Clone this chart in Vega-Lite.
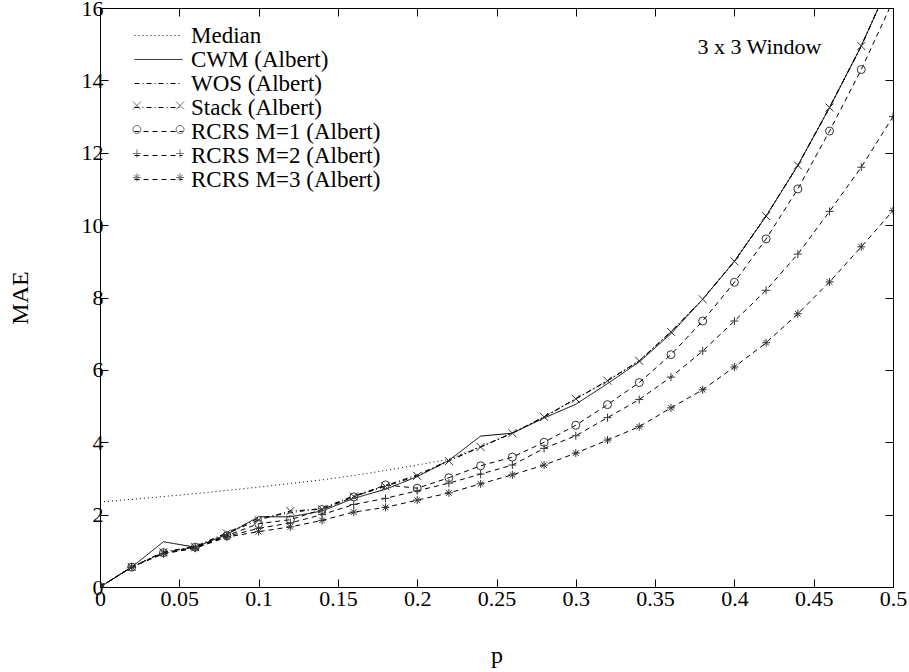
{
  "$schema": "https://vega.github.io/schema/vega-lite/v6.json",
  "width": 793,
  "height": 579,
  "autosize": "none",
  "padding": {"left": 100, "top": 8, "right": 16, "bottom": 85},
  "background": "white",
  "config": {
    "font": "Liberation Serif",
    "view": {"stroke": "black", "strokeWidth": 1},
    "axis": {
      "domainColor": "black", "tickColor": "black", "labelColor": "black", "titleColor": "black",
      "labelFont": "Liberation Serif", "titleFont": "Liberation Serif",
      "labelFontSize": 22, "titleFontSize": 24, "titleFontWeight": "normal",
      "grid": false, "tickSize": -8, "domain": true
    },
    "legend": {"labelFont": "Liberation Serif", "labelFontSize": 23, "labelColor": "black", "labelLimit": 500}
  },
  "data": {"values": [
    {"s":"Median","p":0,"v":2.35},{"s":"Median","p":0.02,"v":2.42},{"s":"Median","p":0.04,"v":2.5},{"s":"Median","p":0.06,"v":2.58},{"s":"Median","p":0.08,"v":2.67},{"s":"Median","p":0.1,"v":2.76},{"s":"Median","p":0.12,"v":2.86},{"s":"Median","p":0.14,"v":2.96},{"s":"Median","p":0.16,"v":3.08},{"s":"Median","p":0.18,"v":3.22},{"s":"Median","p":0.2,"v":3.37},{"s":"Median","p":0.22,"v":3.53},{"s":"Median","p":0.24,"v":3.88},{"s":"Median","p":0.26,"v":4.26},{"s":"Median","p":0.28,"v":4.7},{"s":"Median","p":0.3,"v":5.2},{"s":"Median","p":0.32,"v":5.7},{"s":"Median","p":0.34,"v":6.25},{"s":"Median","p":0.36,"v":7.05},{"s":"Median","p":0.38,"v":7.95},{"s":"Median","p":0.4,"v":9.0},{"s":"Median","p":0.42,"v":10.25},{"s":"Median","p":0.44,"v":11.65},{"s":"Median","p":0.46,"v":13.25},{"s":"Median","p":0.48,"v":14.95},{"s":"Median","p":0.5,"v":16.9},

    {"s":"CWM (Albert)","p":0,"v":0},{"s":"CWM (Albert)","p":0.02,"v":0.55},{"s":"CWM (Albert)","p":0.04,"v":1.25},{"s":"CWM (Albert)","p":0.06,"v":1.1},{"s":"CWM (Albert)","p":0.08,"v":1.45},{"s":"CWM (Albert)","p":0.1,"v":1.94},{"s":"CWM (Albert)","p":0.12,"v":1.94},{"s":"CWM (Albert)","p":0.14,"v":2.1},{"s":"CWM (Albert)","p":0.16,"v":2.45},{"s":"CWM (Albert)","p":0.18,"v":2.7},{"s":"CWM (Albert)","p":0.2,"v":3.05},{"s":"CWM (Albert)","p":0.22,"v":3.5},{"s":"CWM (Albert)","p":0.24,"v":4.17},{"s":"CWM (Albert)","p":0.26,"v":4.25},{"s":"CWM (Albert)","p":0.28,"v":4.67},{"s":"CWM (Albert)","p":0.3,"v":5.05},{"s":"CWM (Albert)","p":0.32,"v":5.62},{"s":"CWM (Albert)","p":0.34,"v":6.22},{"s":"CWM (Albert)","p":0.36,"v":7.0},{"s":"CWM (Albert)","p":0.38,"v":7.95},{"s":"CWM (Albert)","p":0.4,"v":9.0},{"s":"CWM (Albert)","p":0.42,"v":10.25},{"s":"CWM (Albert)","p":0.44,"v":11.65},{"s":"CWM (Albert)","p":0.46,"v":13.25},{"s":"CWM (Albert)","p":0.48,"v":14.95},{"s":"CWM (Albert)","p":0.5,"v":16.9},

    {"s":"WOS (Albert)","p":0,"v":0},{"s":"WOS (Albert)","p":0.02,"v":0.55},{"s":"WOS (Albert)","p":0.04,"v":0.97},{"s":"WOS (Albert)","p":0.06,"v":1.12},{"s":"WOS (Albert)","p":0.08,"v":1.5},{"s":"WOS (Albert)","p":0.1,"v":1.9},{"s":"WOS (Albert)","p":0.12,"v":2.05},{"s":"WOS (Albert)","p":0.14,"v":2.18},{"s":"WOS (Albert)","p":0.16,"v":2.52},{"s":"WOS (Albert)","p":0.18,"v":2.8},{"s":"WOS (Albert)","p":0.2,"v":3.1},{"s":"WOS (Albert)","p":0.22,"v":3.5},{"s":"WOS (Albert)","p":0.24,"v":3.87},{"s":"WOS (Albert)","p":0.26,"v":4.25},{"s":"WOS (Albert)","p":0.28,"v":4.7},{"s":"WOS (Albert)","p":0.3,"v":5.2},{"s":"WOS (Albert)","p":0.32,"v":5.7},{"s":"WOS (Albert)","p":0.34,"v":6.25},{"s":"WOS (Albert)","p":0.36,"v":7.05},{"s":"WOS (Albert)","p":0.38,"v":7.95},{"s":"WOS (Albert)","p":0.4,"v":9.0},{"s":"WOS (Albert)","p":0.42,"v":10.25},{"s":"WOS (Albert)","p":0.44,"v":11.65},{"s":"WOS (Albert)","p":0.46,"v":13.25},{"s":"WOS (Albert)","p":0.48,"v":14.95},{"s":"WOS (Albert)","p":0.5,"v":16.9},

    {"s":"Stack (Albert)","p":0,"v":0},{"s":"Stack (Albert)","p":0.02,"v":0.55},{"s":"Stack (Albert)","p":0.04,"v":0.96},{"s":"Stack (Albert)","p":0.06,"v":1.1},{"s":"Stack (Albert)","p":0.08,"v":1.48},{"s":"Stack (Albert)","p":0.1,"v":1.85},{"s":"Stack (Albert)","p":0.12,"v":2.1},{"s":"Stack (Albert)","p":0.14,"v":2.15},{"s":"Stack (Albert)","p":0.16,"v":2.5},{"s":"Stack (Albert)","p":0.18,"v":2.78},{"s":"Stack (Albert)","p":0.2,"v":3.07},{"s":"Stack (Albert)","p":0.22,"v":3.48},{"s":"Stack (Albert)","p":0.24,"v":3.87},{"s":"Stack (Albert)","p":0.26,"v":4.25},{"s":"Stack (Albert)","p":0.28,"v":4.7},{"s":"Stack (Albert)","p":0.3,"v":5.2},{"s":"Stack (Albert)","p":0.32,"v":5.7},{"s":"Stack (Albert)","p":0.34,"v":6.25},{"s":"Stack (Albert)","p":0.36,"v":7.05},{"s":"Stack (Albert)","p":0.38,"v":7.95},{"s":"Stack (Albert)","p":0.4,"v":9.0},{"s":"Stack (Albert)","p":0.42,"v":10.25},{"s":"Stack (Albert)","p":0.44,"v":11.65},{"s":"Stack (Albert)","p":0.46,"v":13.25},{"s":"Stack (Albert)","p":0.48,"v":14.95},{"s":"Stack (Albert)","p":0.5,"v":16.9},

    {"s":"RCRS M=1 (Albert)","p":0,"v":0},{"s":"RCRS M=1 (Albert)","p":0.02,"v":0.55},{"s":"RCRS M=1 (Albert)","p":0.04,"v":0.95},{"s":"RCRS M=1 (Albert)","p":0.06,"v":1.1},{"s":"RCRS M=1 (Albert)","p":0.08,"v":1.42},{"s":"RCRS M=1 (Albert)","p":0.1,"v":1.75},{"s":"RCRS M=1 (Albert)","p":0.12,"v":1.86},{"s":"RCRS M=1 (Albert)","p":0.14,"v":2.14},{"s":"RCRS M=1 (Albert)","p":0.16,"v":2.49},{"s":"RCRS M=1 (Albert)","p":0.18,"v":2.82},{"s":"RCRS M=1 (Albert)","p":0.2,"v":2.73},{"s":"RCRS M=1 (Albert)","p":0.22,"v":3.02},{"s":"RCRS M=1 (Albert)","p":0.24,"v":3.35},{"s":"RCRS M=1 (Albert)","p":0.26,"v":3.59},{"s":"RCRS M=1 (Albert)","p":0.28,"v":4.0},{"s":"RCRS M=1 (Albert)","p":0.3,"v":4.47},{"s":"RCRS M=1 (Albert)","p":0.32,"v":5.04},{"s":"RCRS M=1 (Albert)","p":0.34,"v":5.65},{"s":"RCRS M=1 (Albert)","p":0.36,"v":6.42},{"s":"RCRS M=1 (Albert)","p":0.38,"v":7.35},{"s":"RCRS M=1 (Albert)","p":0.4,"v":8.42},{"s":"RCRS M=1 (Albert)","p":0.42,"v":9.62},{"s":"RCRS M=1 (Albert)","p":0.44,"v":11.0},{"s":"RCRS M=1 (Albert)","p":0.46,"v":12.6},{"s":"RCRS M=1 (Albert)","p":0.48,"v":14.3},{"s":"RCRS M=1 (Albert)","p":0.5,"v":16.2},

    {"s":"RCRS M=2 (Albert)","p":0,"v":0},{"s":"RCRS M=2 (Albert)","p":0.02,"v":0.55},{"s":"RCRS M=2 (Albert)","p":0.04,"v":0.93},{"s":"RCRS M=2 (Albert)","p":0.06,"v":1.08},{"s":"RCRS M=2 (Albert)","p":0.08,"v":1.4},{"s":"RCRS M=2 (Albert)","p":0.1,"v":1.62},{"s":"RCRS M=2 (Albert)","p":0.12,"v":1.77},{"s":"RCRS M=2 (Albert)","p":0.14,"v":2.0},{"s":"RCRS M=2 (Albert)","p":0.16,"v":2.28},{"s":"RCRS M=2 (Albert)","p":0.18,"v":2.45},{"s":"RCRS M=2 (Albert)","p":0.2,"v":2.66},{"s":"RCRS M=2 (Albert)","p":0.22,"v":2.87},{"s":"RCRS M=2 (Albert)","p":0.24,"v":3.12},{"s":"RCRS M=2 (Albert)","p":0.26,"v":3.37},{"s":"RCRS M=2 (Albert)","p":0.28,"v":3.83},{"s":"RCRS M=2 (Albert)","p":0.3,"v":4.18},{"s":"RCRS M=2 (Albert)","p":0.32,"v":4.68},{"s":"RCRS M=2 (Albert)","p":0.34,"v":5.18},{"s":"RCRS M=2 (Albert)","p":0.36,"v":5.8},{"s":"RCRS M=2 (Albert)","p":0.38,"v":6.52},{"s":"RCRS M=2 (Albert)","p":0.4,"v":7.35},{"s":"RCRS M=2 (Albert)","p":0.42,"v":8.2},{"s":"RCRS M=2 (Albert)","p":0.44,"v":9.2},{"s":"RCRS M=2 (Albert)","p":0.46,"v":10.38},{"s":"RCRS M=2 (Albert)","p":0.48,"v":11.6},{"s":"RCRS M=2 (Albert)","p":0.5,"v":13.0},

    {"s":"RCRS M=3 (Albert)","p":0,"v":0},{"s":"RCRS M=3 (Albert)","p":0.02,"v":0.55},{"s":"RCRS M=3 (Albert)","p":0.04,"v":0.92},{"s":"RCRS M=3 (Albert)","p":0.06,"v":1.07},{"s":"RCRS M=3 (Albert)","p":0.08,"v":1.38},{"s":"RCRS M=3 (Albert)","p":0.1,"v":1.53},{"s":"RCRS M=3 (Albert)","p":0.12,"v":1.66},{"s":"RCRS M=3 (Albert)","p":0.14,"v":1.84},{"s":"RCRS M=3 (Albert)","p":0.16,"v":2.07},{"s":"RCRS M=3 (Albert)","p":0.18,"v":2.2},{"s":"RCRS M=3 (Albert)","p":0.2,"v":2.4},{"s":"RCRS M=3 (Albert)","p":0.22,"v":2.6},{"s":"RCRS M=3 (Albert)","p":0.24,"v":2.85},{"s":"RCRS M=3 (Albert)","p":0.26,"v":3.1},{"s":"RCRS M=3 (Albert)","p":0.28,"v":3.37},{"s":"RCRS M=3 (Albert)","p":0.3,"v":3.7},{"s":"RCRS M=3 (Albert)","p":0.32,"v":4.06},{"s":"RCRS M=3 (Albert)","p":0.34,"v":4.43},{"s":"RCRS M=3 (Albert)","p":0.36,"v":4.95},{"s":"RCRS M=3 (Albert)","p":0.38,"v":5.45},{"s":"RCRS M=3 (Albert)","p":0.4,"v":6.08},{"s":"RCRS M=3 (Albert)","p":0.42,"v":6.75},{"s":"RCRS M=3 (Albert)","p":0.44,"v":7.55},{"s":"RCRS M=3 (Albert)","p":0.46,"v":8.43},{"s":"RCRS M=3 (Albert)","p":0.48,"v":9.4},{"s":"RCRS M=3 (Albert)","p":0.5,"v":10.4}
  ]},
  "layer": [
    {
      "mark": {"type": "line", "clip": true, "color": "black", "strokeWidth": 1},
      "encoding": {
        "x": {"field": "p", "type": "quantitative", "scale": {"domain": [0, 0.5], "nice": false, "zero": false},
              "axis": {"orient": "bottom", "values": [0,0.05,0.1,0.15,0.2,0.25,0.3,0.35,0.4,0.45,0.5], "format": "~g", "labelPadding": 9, "title": "p", "titlePadding": 34, "labelFlush": false}},
        "y": {"field": "v", "type": "quantitative", "scale": {"domain": [0, 16], "nice": false},
              "axis": {"orient": "left", "values": [0,2,4,6,8,10,12,14,16], "labelPadding": 5, "title": "MAE", "titlePadding": 49}},
        "detail": {"field": "s"},
        "strokeDash": {"field": "s", "type": "nominal",
          "scale": {"domain": ["Median","CWM (Albert)","WOS (Albert)","Stack (Albert)","RCRS M=1 (Albert)","RCRS M=2 (Albert)","RCRS M=3 (Albert)"],
                    "range": [[1,3],[1,0],[5,3,1,3],[5,3,1,3],[5,4],[5,4],[5,4]]},
          "legend": {"title": null, "orient": "none", "legendX": 47, "legendY": 16, "padding": 0, "symbolType": "M-2.4,0L2.4,0", "symbolSize": 400, "symbolStrokeWidth": 1, "symbolStrokeColor": "black", "rowPadding": 0, "labelOffset": 21}}
      }
    },
    {
      "transform": [{"filter": "indexof(['Stack (Albert)','RCRS M=1 (Albert)','RCRS M=2 (Albert)','RCRS M=3 (Albert)'], datum.s) >= 0"}],
      "mark": {"type": "point", "clip": true, "filled": false, "stroke": "#333333", "strokeWidth": 1, "size": 64, "opacity": 1},
      "encoding": {
        "x": {"field": "p", "type": "quantitative", "axis": {"orient": "top", "values": [0,0.05,0.1,0.15,0.2,0.25,0.3,0.35,0.4,0.45,0.5], "labels": false, "title": null}},
        "y": {"field": "v", "type": "quantitative", "axis": {"orient": "right", "values": [0,2,4,6,8,10,12,14,16], "labels": false, "title": null}},
        "shape": {"field": "s", "type": "nominal",
          "scale": {"domain": ["Stack (Albert)","RCRS M=1 (Albert)","RCRS M=2 (Albert)","RCRS M=3 (Albert)"],
                    "range": ["M-1,-1L1,1M-1,1L1,-1", "circle", "M-1,0L1,0M0,-1L0,1", "M-1,0L1,0M0,-1L0,1M-0.7,-0.7L0.7,0.7M-0.7,0.7L0.7,-0.7"]},
          "legend": null}
      }
    },
    {
      "transform": [{"filter": "false"}],
      "mark": {"type": "point", "filled": false, "stroke": "#333333", "strokeWidth": 1},
      "encoding": {
        "shape": {"field": "s", "type": "nominal",
          "scale": {"domain": ["Stack (Albert)","RCRS M=1 (Albert)","RCRS M=2 (Albert)","RCRS M=3 (Albert)"],
                    "range": [
                      "M-2.56,-0.4L-1.76,0.4M-2.56,0.4L-1.76,-0.4M1.76,-0.4L2.56,0.4M1.76,0.4L2.56,-0.4",
                      "M-1.76,0A0.4,0.4 0 1,0 -2.56,0A0.4,0.4 0 1,0 -1.76,0M2.56,0A0.4,0.4 0 1,0 1.76,0A0.4,0.4 0 1,0 2.56,0",
                      "M-2.56,0L-1.76,0M-2.16,-0.4L-2.16,0.4M1.76,0L2.56,0M2.16,-0.4L2.16,0.4",
                      "M-2.56,0L-1.76,0M-2.16,-0.4L-2.16,0.4M-2.44,-0.28L-1.88,0.28M-2.44,0.28L-1.88,-0.28M1.76,0L2.56,0M2.16,-0.4L2.16,0.4M1.88,-0.28L2.44,0.28M1.88,0.28L2.44,-0.28"]},
          "legend": {"title": null, "orient": "none", "legendX": 47, "legendY": 86, "padding": 0, "symbolSize": 400, "symbolStrokeWidth": 1, "symbolStrokeColor": "#333333", "symbolFillColor": "transparent", "rowPadding": 0, "labelOffset": 21, "labelOpacity": 0, "labelExpr": "' '"}}
      }
    },
    {
      "data": {"values": [{"label": "3 x 3 Window"}]},
      "mark": {"type": "text", "fontSize": 22, "font": "Liberation Serif", "color": "black", "align": "center", "baseline": "middle"},
      "encoding": {
        "x": {"datum": 0.4158, "type": "quantitative", "axis": null},
        "y": {"datum": 14.92, "type": "quantitative", "axis": null},
        "text": {"field": "label"}
      }
    }
  ],
  "resolve": {"axis": {"x": "independent", "y": "independent"}, "scale": {"shape": "independent"}}
}
